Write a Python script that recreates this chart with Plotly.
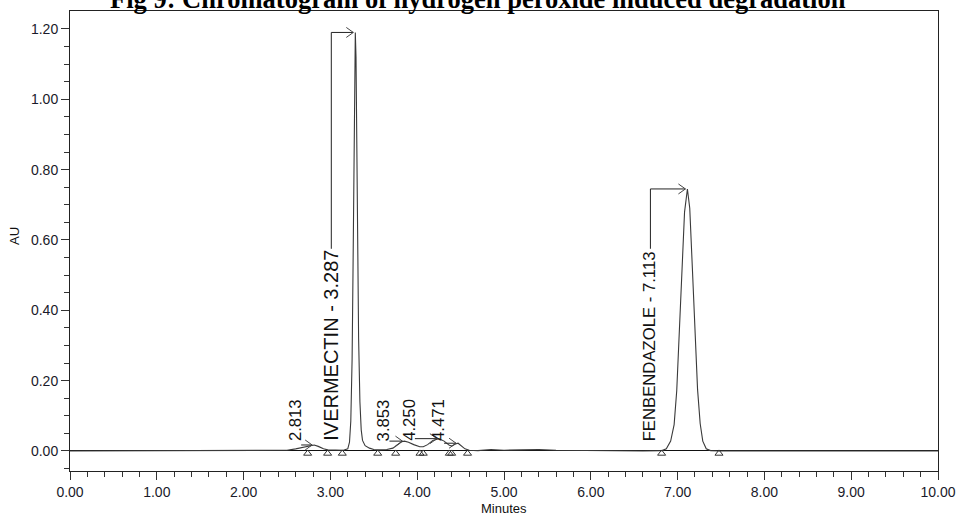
import plotly.graph_objects as go

# ---------------- data ----------------
time_min = [0.00, 1.00, 2.00, 2.40, 2.50, 2.60, 2.70, 2.76, 2.813, 2.86, 2.92, 2.97, 3.05, 3.15,
            3.20, 3.22, 3.235, 3.25, 3.26, 3.27, 3.28, 3.287, 3.295, 3.305, 3.315, 3.325, 3.34,
            3.355, 3.37, 3.40, 3.45, 3.50, 3.55, 3.65, 3.72, 3.78, 3.82, 3.853, 3.90, 3.96, 4.03,
            4.07, 4.12, 4.18, 4.25, 4.31, 4.37, 4.40, 4.44, 4.471, 4.50, 4.55, 4.60, 4.70, 4.85,
            5.00, 5.20, 5.40, 5.60, 5.90, 6.20, 6.60, 6.82, 6.87, 6.92, 6.96, 6.99, 7.02, 7.05,
            7.08, 7.113, 7.14, 7.17, 7.20, 7.23, 7.26, 7.29, 7.33, 7.38, 7.48, 8.00, 9.00, 10.00]
absorbance_au = [0.000, 0.000, 0.000, 0.000, 0.002, 0.006, 0.011, 0.015, 0.017, 0.013, 0.006, 0.003, 0.002, 0.002,
                 0.006, 0.025, 0.085, 0.260, 0.500, 0.800, 1.100, 1.190, 1.120, 0.860, 0.560, 0.320, 0.140,
                 0.060, 0.030, 0.015, 0.008, 0.004, 0.003, 0.004, 0.008, 0.018, 0.026, 0.028, 0.025, 0.018, 0.012,
                 0.012, 0.018, 0.030, 0.035, 0.028, 0.016, 0.014, 0.020, 0.022, 0.017, 0.006, 0.002, 0.001, 0.004,
                 0.002, 0.003, 0.004, 0.002, 0.001, 0.001, 0.000, 0.001, 0.006, 0.028, 0.075, 0.171, 0.326, 0.516,
                 0.679, 0.745, 0.690, 0.520, 0.330, 0.175, 0.078, 0.028, 0.006, 0.001, 0.000, 0.000, 0.000, 0.000]

peak_rt = [2.813, 3.287, 3.853, 4.250, 4.471, 7.113]
peak_apex_au = [0.017, 1.190, 0.028, 0.035, 0.022, 0.745]
peak_names = ["", "IVERMECTIN", "", "", "", "FENBENDAZOLE"]

integration_marks_min = [2.738, 2.968, 3.137, 3.545, 3.752, 4.032, 4.070, 4.370, 4.397, 4.580, 6.816, 7.477]

x_tick_vals = [0, 1, 2, 3, 4, 5, 6, 7, 8, 9, 10]
y_tick_vals = [0.0, 0.2, 0.4, 0.6, 0.8, 1.0, 1.2]

title_text = "Fig 9: Chromatogram of hydrogen peroxide induced degradation"

# ---------------- geometry / style ----------------
W, H = 959, 516
ML, MR, MT, MB = 70, 21, 11, 45
XR = [0.0, 10.0]
YR = [-0.057, 1.251]
PX = (XR[1] - XR[0]) / (W - ML - MR)   # minutes per pixel
PY = (YR[1] - YR[0]) / (H - MT - MB)   # AU per pixel

label_font_sizes = [16.7, 20, 16.7, 16.7, 16.7, 16.7]
label_offset_px = [-18, -24, -20, -29, -19, -37]
label_base_px = 8          # label bottom above baseline (pixels)
mark_level_px = -2.5       # integration marks slightly below baseline

# Arial/Liberation Sans advance widths (em)
CW = {c: 0.556 for c in "0123456789"}
CW.update({".": 0.278, " ": 0.278, "-": 0.333, "I": 0.278, "V": 0.667, "E": 0.667, "R": 0.722,
           "M": 0.833, "C": 0.722, "T": 0.611, "N": 0.722, "F": 0.611, "B": 0.667, "D": 0.722,
           "A": 0.667, "Z": 0.611, "O": 0.778, "L": 0.556})


def text_len_px(s, size):
    return sum(CW.get(c, 0.6) for c in s) * size


fig = go.Figure()

fig.add_trace(go.Scatter(x=time_min, y=absorbance_au, mode="lines",
                         line=dict(color="#3a3a3a", width=1.1), hoverinfo="skip", showlegend=False))

fig.add_trace(go.Scatter(x=integration_marks_min,
                         y=[mark_level_px * PY] * len(integration_marks_min),
                         mode="markers",
                         marker=dict(symbol="triangle-up-open", size=7, color="#333",
                                     line=dict(width=1, color="#333")),
                         hoverinfo="skip", showlegend=False))

shapes = []
annotations = []
for rt, apex, name, off, fs in zip(peak_rt, peak_apex_au, peak_names, label_offset_px, label_font_sizes):
    label = f"{name} - {rt:.3f}" if name else f"{rt:.3f}"
    lx = rt + off * PX
    lbase = label_base_px * PY
    annotations.append(dict(x=lx, y=lbase, xref="x", yref="y", text=label, textangle=-90,
                            showarrow=False, xanchor="center", yanchor="bottom",
                            font=dict(family="Liberation Sans, Arial", size=fs, color="#111")))
    ltop = lbase + (text_len_px(label, fs) + 3) * PY
    tip_x = rt - 2 * PX
    if apex > ltop:
        path = f"M {lx},{ltop} L {lx},{apex} L {tip_x},{apex}"
    else:
        path = f"M {lx + 5 * PX},{apex} L {tip_x},{apex}"
    shapes.append(dict(type="path", path=path, xref="x", yref="y",
                       line=dict(color="#222", width=1)))
    chev = (f"M {tip_x - 7 * PX},{apex + 5 * PY} L {tip_x},{apex} "
            f"L {tip_x - 7 * PX},{apex - 5 * PY}")
    shapes.append(dict(type="path", path=chev, xref="x", yref="y",
                       line=dict(color="#444", width=1)))

# title (partially cut at top, as in the reference)
annotations.append(dict(x=(478 - ML) / (W - ML - MR), y=1 - 5 / (H - MT - MB), xref="paper", yref="paper",
                        text=f"<b>{title_text}</b>", showarrow=False, xanchor="center", yanchor="bottom",
                        font=dict(family="Liberation Serif, Times New Roman", size=26.5, color="#000")))
# axis titles
annotations.append(dict(x=(504 - ML) / (W - ML - MR), y=(H - MB - 508) / (H - MT - MB),
                        xref="paper", yref="paper", text="Minutes", showarrow=False,
                        xanchor="center", yanchor="middle",
                        font=dict(family="Liberation Sans, Arial", size=13, color="#111")))
annotations.append(dict(x=(15 - ML) / (W - ML - MR), y=(H - MB - 236) / (H - MT - MB),
                        xref="paper", yref="paper", text="AU", showarrow=False, textangle=-90,
                        xanchor="center", yanchor="middle",
                        font=dict(family="Liberation Sans, Arial", size=13, color="#111")))

tickfont = dict(family="Liberation Sans, Arial", size=14, color="#1a1a2a")
fig.update_layout(
    width=W, height=H,
    margin=dict(l=ML, r=MR, t=MT, b=MB, autoexpand=False),
    paper_bgcolor="white", plot_bgcolor="white",
    shapes=shapes, annotations=annotations,
    xaxis=dict(range=XR, tickvals=x_tick_vals, ticktext=[f"{v:.2f}" for v in x_tick_vals],
               automargin=False,
               ticks="outside", ticklen=8, tickcolor="#333", tickwidth=1,
               minor=dict(dtick=0.2, ticks="outside", ticklen=5, tickcolor="#333", tickwidth=1),
               showline=True, linecolor="#222", linewidth=1, mirror=True,
               showgrid=False, zeroline=False, tickfont=tickfont),
    yaxis=dict(range=YR, tickvals=y_tick_vals, ticktext=[f"{v:.2f}" for v in y_tick_vals],
               automargin=False,
               ticks="outside", ticklen=8, tickcolor="#333", tickwidth=1,
               minor=dict(tickvals=[i * 0.05 for i in range(-1, 25)], ticks="outside", ticklen=5,
                          tickcolor="#333", tickwidth=1),
               showline=True, linecolor="#222", linewidth=1, mirror=True,
               showgrid=False, zeroline=True, zerolinecolor="#111", zerolinewidth=1,
               tickfont=tickfont),
)

fig.write_html("out.html")
